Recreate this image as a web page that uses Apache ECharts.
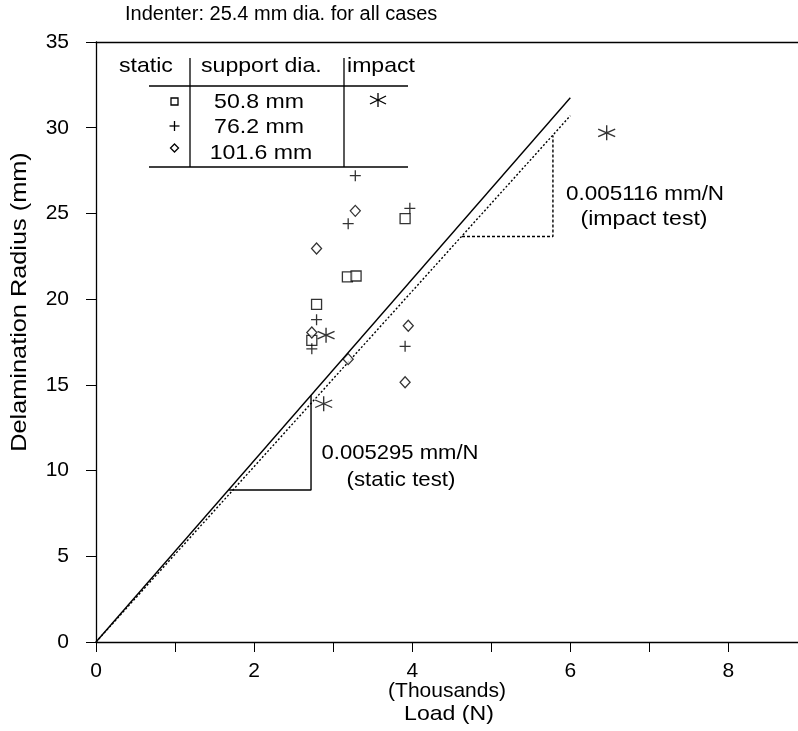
<!DOCTYPE html>
<html>
<head>
<meta charset="utf-8">
<script src="https://cdn.jsdelivr.net/npm/echarts@6/dist/echarts.min.js"></script>
<style>
  html, body { margin: 0; padding: 0; background: #fff; }
  #main { width: 798px; height: 731px; }
</style>
</head>
<body>
<div id="main"></div>
<script>
// load in thousands of N, radius in mm
const static508 = [[2.79, 19.7], [3.18, 21.3], [3.29, 21.35], [2.73, 17.6], [3.91, 24.7]];
const static762 = [[3.28, 27.2], [3.19, 24.4], [3.97, 25.3], [2.79, 18.8], [2.73, 17.1], [3.91, 17.25]];
const static1016 = [[3.28, 25.15], [2.79, 22.95], [2.73, 18.05], [3.19, 16.5], [3.95, 18.45], [3.91, 15.15]];
const impact = [[2.91, 17.9], [2.88, 13.9], [6.46, 29.7]];

const staticFit = [[0, 0], [6.0, 31.75]];
const impactFit = [[0, 0], [6.0, 30.7]];
const staticTri = [[1.68, 8.87], [2.72, 8.87], [2.72, 14.4]];
const impactTri = [[4.63, 23.65], [5.78, 23.65], [5.78, 29.55]];

const xTickValues = [0, 1, 2, 3, 4, 5, 6, 7, 8];
const xLabelValues = [0, 2, 4, 6, 8];

const FONT = 'Liberation Sans, Arial, sans-serif';
const plus = 'path://M0,-1L0,1M-1,0L1,0';
const star = 'path://M0,-1L0,1M-0.866,-0.5L0.866,0.5M-0.866,0.5L0.866,-0.5';

const chart = echarts.init(document.getElementById('main'));

const scatter = (data, symbol, size, fill) => ({
  type: 'scatter',
  data,
  symbol,
  symbolSize: size,
  itemStyle: { color: fill, borderColor: '#000', borderWidth: 1.3 },
  z: 5,
});

const line = (data, type) => ({
  type: 'line',
  data,
  symbol: 'none',
  lineStyle: { color: '#000', width: 1.4, type },
  z: 3,
});

const txt = (x, y, text, align, size, sx) => ({
  type: 'text', x, y, scaleX: sx || 1,
  style: { text, font: (size || 21) + 'px ' + FONT, fill: '#000', align: align || 'left', verticalAlign: 'middle' },
});
const seg = (x1, y1, x2, y2) => ({
  type: 'line',
  shape: { x1, y1, x2, y2 },
  style: { stroke: '#000', lineWidth: 1.3 },
});

const axisLine = { lineStyle: { color: '#000', width: 1.3 } };

chart.setOption({
  animation: false,
  backgroundColor: '#fff',
  grid: { left: 96, top: 42, bottom: 89, right: 0 },
  xAxis: [{
    type: 'value', min: 0, max: 8.88,
    axisLine,
    axisTick: { length: 10, customValues: xTickValues, lineStyle: { color: '#000' } },
    axisLabel: { margin: 19, customValues: xLabelValues, fontFamily: FONT, fontSize: 21, color: '#000' },
    splitLine: { show: false },
  }, {
    type: 'value', min: 0, max: 8.88, position: 'top',
    axisLine, axisTick: { show: false }, axisLabel: { show: false }, splitLine: { show: false },
  }],
  yAxis: {
    type: 'value', min: 0, max: 35, interval: 5,
    axisLine,
    axisTick: { length: 10, lineStyle: { color: '#000' } },
    axisLabel: { margin: 27, fontFamily: FONT, fontSize: 21, color: '#000' },
    splitLine: { show: false },
  },
  series: [
    line(staticFit, 'solid'),
    line(impactFit, [2, 2]),
    line(staticTri, 'solid'),
    line(impactTri, [3, 2]),
    scatter(static508, 'rect', 10, '#fff'),
    scatter(static762, plus, 11, 'none'),
    scatter(static1016, 'diamond', [10, 11], '#fff'),
    scatter(impact, star, [17, 15], 'none'),
  ],
  graphic: [
    txt(125, 14, 'Indenter: 25.4 mm dia. for all cases', 'left', 20),
    { ...txt(20, 302, 'Delamination Radius (mm)', 'center', 22, 1.15), rotation: Math.PI / 2 },
    txt(447, 691, '(Thousands)', 'center', 21),
    txt(449, 714, 'Load (N)', 'center', 21, 1.1),
    txt(119, 66, 'static', 'left', 21, 1.1),
    txt(201, 66, 'support dia.', 'left', 21, 1.1),
    txt(347, 66, 'impact', 'left', 21, 1.1),
    seg(149, 86, 408, 86),
    seg(149, 167, 408, 167),
    seg(190, 58, 190, 167),
    seg(344, 58, 344, 167),
    txt(259, 102, '50.8 mm', 'center', 21, 1.1),
    txt(259, 127, '76.2 mm', 'center', 21, 1.1),
    txt(261, 153, '101.6 mm', 'center', 21, 1.1),
    { type: 'rect', shape: { x: 171, y: 98, width: 7, height: 7 }, style: { fill: '#fff', stroke: '#000', lineWidth: 1.3 } },
    seg(174.5, 121, 174.5, 131), seg(169.5, 126, 179.5, 126),
    { type: 'polygon', shape: { points: [[174.5, 144], [178.5, 148], [174.5, 152], [170.5, 148]] }, style: { fill: '#fff', stroke: '#000', lineWidth: 1.3 } },
    seg(378, 93, 378, 107), seg(370, 96, 386, 104), seg(370, 104, 386, 96),
    txt(400, 453, '0.005295 mm/N', 'center', 21, 1.05),
    txt(401, 480, '(static test)', 'center', 21, 1.06),
    txt(645, 194, '0.005116 mm/N', 'center', 21, 1.07),
    txt(644, 219, '(impact test)', 'center', 21, 1.1),
  ],
});
</script>
</body>
</html>
